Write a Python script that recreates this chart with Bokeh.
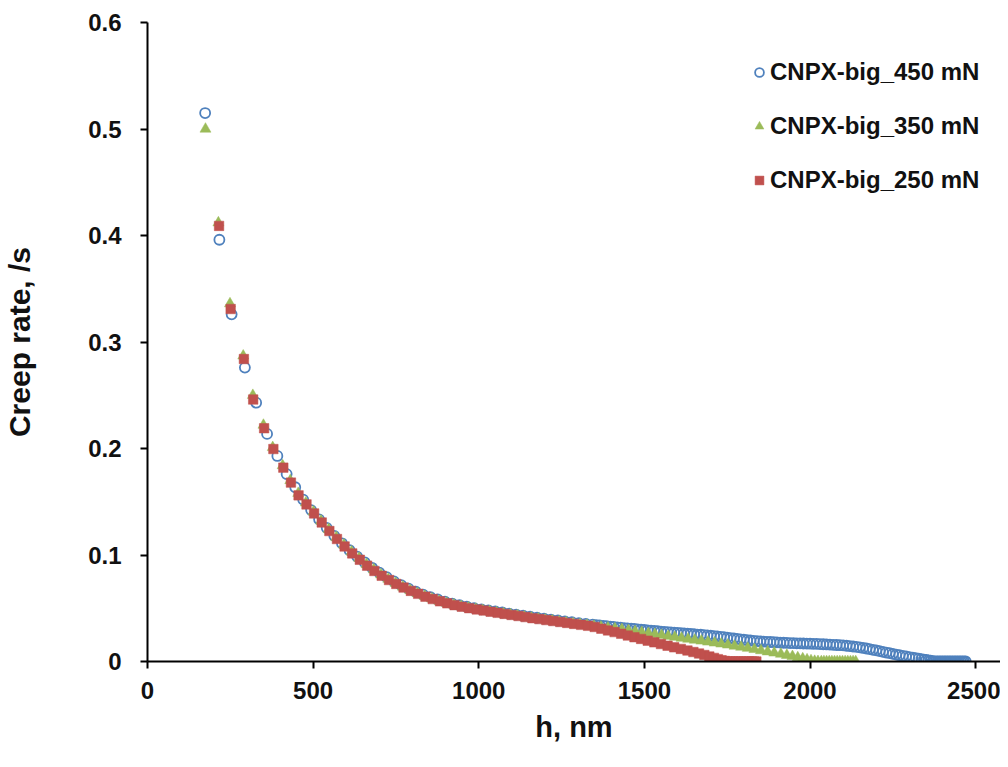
from bokeh.plotting import figure
from bokeh.models import Range1d, FixedTicker, Legend, LegendItem
from bokeh.embed import file_html
from bokeh.resources import INLINE

# ---------------- data ----------------
series_names = ["CNPX-big_450 mN", "CNPX-big_350 mN", "CNPX-big_250 mN"]

h_450 = [174, 217, 254, 294, 328, 361, 392, 420, 446, 470,
         494, 518, 541, 564, 587, 610, 633, 656, 678, 700,
         722, 744, 766, 788, 810, 832, 854, 876, 898, 920,
         942, 964, 986, 1008, 1029, 1050, 1071, 1092, 1113, 1134,
         1155, 1176, 1197, 1218, 1239, 1260, 1281, 1302, 1323, 1344,
         1355, 1365, 1376, 1386, 1397, 1407, 1418, 1428, 1439, 1449,
         1460, 1470, 1480, 1490, 1500, 1510, 1520, 1530, 1540, 1550,
         1560, 1570, 1580, 1590, 1600, 1610, 1620, 1630, 1640, 1650,
         1660, 1670, 1680, 1690, 1700, 1710, 1720, 1730, 1740, 1750,
         1760, 1770, 1780, 1790, 1800, 1810, 1820, 1830, 1840, 1850,
         1860, 1870, 1880, 1890, 1900, 1910, 1920, 1930, 1940, 1950,
         1960, 1970, 1980, 1990, 2000, 2010, 2020, 2030, 2040, 2050,
         2060, 2070, 2080, 2090, 2100, 2110, 2120, 2130, 2140, 2150,
         2160, 2170, 2180, 2190, 2200, 2210, 2220, 2230, 2240, 2250,
         2260, 2270, 2280, 2290, 2300, 2310, 2319, 2328, 2336, 2344,
         2351, 2358, 2364, 2370, 2375, 2380, 2385, 2390, 2395, 2400,
         2405, 2410, 2415, 2420, 2425, 2430, 2435, 2440, 2445, 2450,
         2455, 2460, 2465, 2470]
rate_450 = [0.515, 0.396, 0.326, 0.276, 0.243, 0.2137, 0.193, 0.176, 0.1636, 0.152,
            0.1422, 0.1335, 0.1255, 0.118, 0.111, 0.1045, 0.0985, 0.093, 0.088, 0.0834,
            0.0792, 0.0753, 0.0717, 0.0685, 0.0655, 0.0628, 0.0604, 0.0582, 0.0562, 0.0544,
            0.0528, 0.0514, 0.0501, 0.049, 0.048, 0.047, 0.046, 0.045, 0.044, 0.043,
            0.042, 0.0411, 0.0402, 0.0393, 0.0385, 0.0377, 0.0369, 0.0361, 0.0353, 0.0346,
            0.0342, 0.0339, 0.0335, 0.0332, 0.0328, 0.0325, 0.0321, 0.0318, 0.0314, 0.0311,
            0.0308, 0.0305, 0.0302, 0.0299, 0.0296, 0.0293, 0.0290, 0.0287, 0.0284, 0.0281,
            0.0278, 0.0276, 0.0273, 0.0271, 0.0268, 0.0266, 0.0263, 0.0261, 0.0258, 0.0256,
            0.0253, 0.0251, 0.0248, 0.0245, 0.0242, 0.0239, 0.0236, 0.0232, 0.0228, 0.0224,
            0.0220, 0.0216, 0.0212, 0.0208, 0.0204, 0.0200, 0.0197, 0.0194, 0.0191, 0.0189,
            0.0187, 0.0185, 0.0183, 0.0181, 0.0179, 0.0178, 0.0176, 0.0175, 0.0173, 0.0172,
            0.0171, 0.0170, 0.0169, 0.0168, 0.0167, 0.0166, 0.0165, 0.0163, 0.0162, 0.0160,
            0.0159, 0.0157, 0.0155, 0.0153, 0.0151, 0.0148, 0.0145, 0.0141, 0.0137, 0.0132,
            0.0127, 0.0122, 0.0116, 0.0110, 0.0104, 0.0097, 0.0091, 0.0084, 0.0078, 0.0071,
            0.0065, 0.0059, 0.0053, 0.0048, 0.0042, 0.0037, 0.0032, 0.0027, 0.0022, 0.0018,
            0.0014, 0.0010, 0.0007, 0.0004, 0.0002, 0.0001, 0, 0, 0, 0,
            0, 0, 0, 0, 0, 0, 0, 0, 0, 0,
            0, 0, 0, 0]

h_350 = [175, 214, 249, 289, 318, 350, 378, 408, 431, 455,
         478, 501, 524, 547, 570, 593, 616, 639, 661, 683,
         705, 727, 749, 771, 793, 815, 837, 859, 881, 903,
         925, 947, 969, 991, 1012, 1033, 1054, 1075, 1096, 1117,
         1138, 1159, 1180, 1201, 1222, 1243, 1264, 1285, 1306, 1327,
         1348, 1369, 1390, 1411, 1432, 1452, 1472, 1492, 1512, 1532,
         1552, 1572, 1592, 1612, 1632, 1652, 1672, 1692, 1712, 1732,
         1752, 1772, 1792, 1812, 1832, 1852, 1872, 1892, 1912, 1930,
         1947, 1963, 1978, 1991, 2003, 2014, 2024, 2034, 2042, 2050,
         2058, 2066, 2074, 2082, 2090, 2098, 2106, 2114, 2122, 2130,
         2138]
rate_350 = [0.500, 0.412, 0.336, 0.287, 0.250, 0.222, 0.201, 0.184, 0.170, 0.158,
            0.149, 0.1405, 0.132, 0.124, 0.1165, 0.1095, 0.103, 0.097, 0.0912, 0.0862,
            0.0815, 0.0773, 0.0735, 0.0700, 0.0668, 0.0639, 0.0613, 0.0589, 0.0568, 0.0549,
            0.0532, 0.0517, 0.0504, 0.0492, 0.0481, 0.0470, 0.0460, 0.0450, 0.0440, 0.0430,
            0.0420, 0.0410, 0.0401, 0.0392, 0.0383, 0.0374, 0.0365, 0.0357, 0.0349, 0.0341,
            0.0333, 0.0325, 0.0317, 0.0309, 0.0301, 0.0292, 0.0283, 0.0274, 0.0265, 0.0256,
            0.0247, 0.0238, 0.0229, 0.0220, 0.0211, 0.0202, 0.0193, 0.0184, 0.0175, 0.0166,
            0.0156, 0.0146, 0.0136, 0.0125, 0.0114, 0.0103, 0.0092, 0.0081, 0.0070, 0.0059,
            0.0048, 0.0037, 0.0027, 0.0017, 0.0009, 0.0003, 0.0001, 0, 0, 0,
            0, 0, 0, 0, 0, 0, 0, 0, 0, 0,
            0]

h_250 = [216, 251, 291, 319, 352, 380, 410, 433, 456, 480,
         503, 526, 549, 572, 595, 618, 641, 663, 685, 707,
         729, 751, 773, 795, 817, 839, 861, 883, 905, 927,
         949, 971, 994, 1015, 1036, 1057, 1078, 1099, 1120, 1141,
         1162, 1183, 1204, 1225, 1246, 1267, 1288, 1309, 1330, 1350,
         1370, 1390, 1410, 1430, 1450, 1470, 1490, 1510, 1530, 1550,
         1570, 1590, 1610, 1630, 1648, 1665, 1681, 1696, 1710, 1722,
         1733, 1743, 1752, 1760, 1768, 1776, 1784, 1792, 1800, 1808,
         1816, 1824, 1831, 1838]
rate_250 = [0.409, 0.331, 0.284, 0.246, 0.219, 0.1995, 0.182, 0.168, 0.156, 0.1475,
            0.139, 0.1305, 0.1225, 0.115, 0.108, 0.1015, 0.0955, 0.090, 0.085, 0.0805,
            0.0765, 0.0728, 0.0694, 0.0663, 0.0635, 0.0609, 0.0586, 0.0565, 0.0546, 0.0529,
            0.0514, 0.0501, 0.0489, 0.0478, 0.0467, 0.0457, 0.0447, 0.0437, 0.0427, 0.0417,
            0.0407, 0.0398, 0.0389, 0.0380, 0.0371, 0.0362, 0.0353, 0.0344, 0.0335, 0.0324,
            0.0308, 0.0292, 0.0276, 0.0260, 0.0244, 0.0228, 0.0212, 0.0196, 0.0180, 0.0164,
            0.0148, 0.0133, 0.0118, 0.0103, 0.0089, 0.0075, 0.0061, 0.0047, 0.0034, 0.0022,
            0.0012, 0.0005, 0.0001, 0, 0, 0, 0, 0, 0, 0,
            0, 0, 0, 0]

x_ticks = [0, 500, 1000, 1500, 2000, 2500]
x_tick_labels = ["0", "500", "1000", "1500", "2000", "2500"]
y_ticks = [0, 0.1, 0.2, 0.3, 0.4, 0.5, 0.6]
y_tick_labels = ["0", "0.1", "0.2", "0.3", "0.4", "0.5", "0.6"]

x_title = "h, nm"
y_title = "Creep rate, /s"

# ---------------- styling ----------------
FONT = "Liberation Sans"
BLUE = "#4F81BD"
GREEN = "#9BBB59"
RED = "#C0504D"
TXT = "#111111"

p = figure(width=1000, height=751, output_backend="svg", toolbar_location=None,
           x_range=Range1d(0, 2575), y_range=Range1d(0, 0.6),
           min_border_left=145, min_border_right=0,
           min_border_top=22, min_border_bottom=90)
p.outline_line_color = None
p.xgrid.visible = False
p.ygrid.visible = False
p.background_fill_color = "white"

r450 = p.scatter(h_450, rate_450, marker="circle", size=10,
                 fill_color=None, line_color=BLUE, line_width=1.8)
r350 = p.scatter(h_350, rate_350, marker="triangle", size=11,
                 fill_color=GREEN, line_color=GREEN, line_width=0.5)
r250 = p.scatter(h_250, rate_250, marker="square", size=9.5,
                 fill_color=RED, line_color=RED, line_width=0.5)

for ax in (p.xaxis[0], p.yaxis[0]):
    ax.axis_line_color = "black"
    ax.axis_line_width = 2
    ax.major_tick_line_color = "black"
    ax.major_tick_line_width = 2
    ax.major_tick_in = 0
    ax.major_tick_out = 7
    ax.minor_tick_line_color = None
    ax.major_label_text_font = FONT
    ax.major_label_text_font_style = "bold"
    ax.major_label_text_font_size = "24px"
    ax.major_label_text_color = TXT
    ax.axis_label_text_font = FONT
    ax.axis_label_text_font_style = "bold"
    ax.axis_label_text_color = TXT

p.xaxis[0].axis_label_text_font_size = "29px"
p.yaxis[0].axis_label_text_font_size = "30px"
p.xaxis[0].ticker = FixedTicker(ticks=x_ticks)
p.xaxis[0].major_label_overrides = dict(zip(x_ticks, x_tick_labels))
p.yaxis[0].ticker = FixedTicker(ticks=y_ticks)
p.yaxis[0].major_label_overrides = dict(zip(y_ticks, y_tick_labels))
p.xaxis[0].axis_label = x_title
p.yaxis[0].axis_label = y_title
p.xaxis[0].major_label_standoff = 13
p.yaxis[0].major_label_standoff = 19
p.xaxis[0].axis_label_standoff = 9
p.yaxis[0].axis_label_standoff = 49

legend = Legend(items=[LegendItem(label=series_names[0], renderers=[r450]),
                       LegendItem(label=series_names[1], renderers=[r350]),
                       LegendItem(label=series_names[2], renderers=[r250])],
                location=(601, 467), orientation="vertical",
                glyph_width=22, glyph_height=22, label_height=27,
                spacing=26, padding=0, margin=0, label_standoff=0,
                border_line_color=None, background_fill_alpha=0,
                label_text_font=FONT, label_text_font_style="bold",
                label_text_font_size="24px", label_text_color=TXT)
p.add_layout(legend)

open("out.html", "w").write(file_html(p, INLINE))
